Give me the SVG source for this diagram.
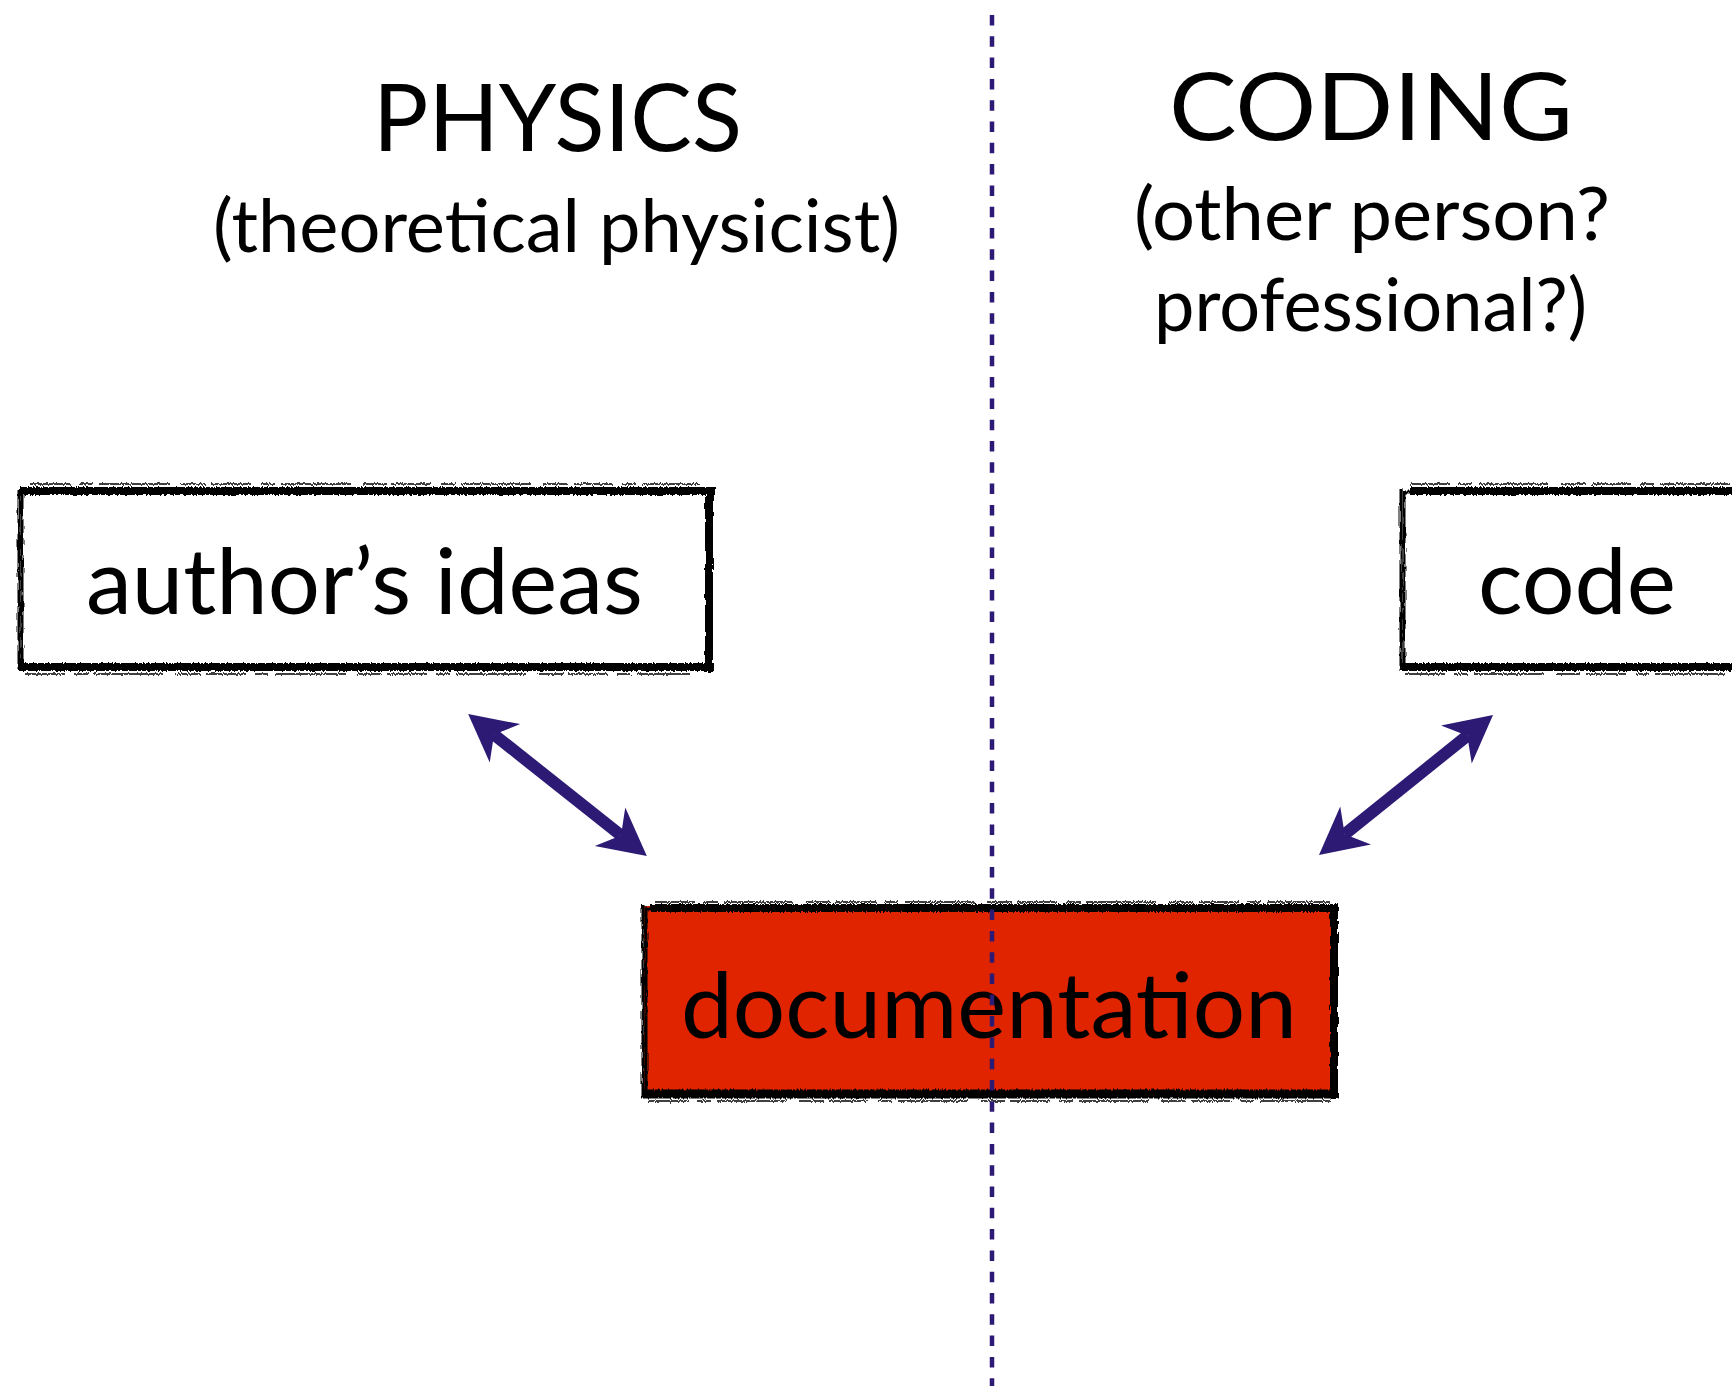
<svg xmlns="http://www.w3.org/2000/svg" width="1732" height="1386" viewBox="0 0 1732 1386">
  <style>
    .title { font-family: "Lato", "Open Sans", sans-serif; font-size: 94px; fill: #000; text-anchor: middle; }
    .sub { font-family: "Lato", "Open Sans", sans-serif; font-size: 73px; fill: #000; text-anchor: middle; }
    .label { font-family: "Lato", "Open Sans", sans-serif; font-size: 92px; fill: #000; text-anchor: middle; }
    .edge { stroke: #000; fill: none; stroke-linecap: butt; }
    .streak { stroke: #000; fill: none; stroke-width: 1.5; stroke-dasharray: 40 9 14 6 70 12 25 5; }
    .link { stroke: #2C1A75; fill: none; marker-start: url(#head); marker-end: url(#head); }
    .divider { stroke: #2C1A75; stroke-width: 4.5; stroke-dasharray: 10.5 10.8; fill: none; }
  </style>
  <defs>
    <!-- brush-like jitter for the box outlines -->
    <filter id="rough" x="-3%" y="-6%" width="106%" height="112%">
      <feTurbulence type="fractalNoise" baseFrequency="0.6 0.08" numOctaves="2" seed="7" result="noise"/>
      <feDisplacementMap in="SourceGraphic" in2="noise" scale="4" xChannelSelector="R" yChannelSelector="G"/>
    </filter>
    <!-- swept-back arrowhead; the shaft ends at the notch -->
    <marker id="head" markerUnits="userSpaceOnUse" markerWidth="56" markerHeight="56" viewBox="-17 -28 56 56" refX="0" refY="0" orient="auto-start-reverse">
      <path d="M33,0 L-14,-24.5 L0,0 L-14,24.5 Z" fill="#2C1A75"/>
    </marker>
  </defs>

  <rect width="1732" height="1386" fill="#fff"/>

  <!-- column headings -->
  <g id="physics-heading">
    <text class="title" x="557.5" y="151" textLength="369" lengthAdjust="spacingAndGlyphs">PHYSICS</text>
    <text class="sub" x="556.5" y="252" textLength="687" lengthAdjust="spacingAndGlyphs">(theoretical physicist)</text>
  </g>
  <g id="coding-heading">
    <text class="title" x="1371" y="140" textLength="404" lengthAdjust="spacingAndGlyphs">CODING</text>
    <text class="sub" x="1372" y="240" textLength="476" lengthAdjust="spacingAndGlyphs">(other person?</text>
    <text class="sub" x="1370.5" y="331" textLength="433" lengthAdjust="spacingAndGlyphs">professional?)</text>
  </g>

  <!-- author's ideas -->
  <g id="authors-ideas">
    <rect x="18" y="487" width="696" height="185" fill="#fff"/>
    <g filter="url(#rough)">
      <rect class="edge" x="22" y="492" width="687" height="175" stroke-width="3"/>
      <line class="edge" x1="20" y1="491" x2="715" y2="491" stroke-width="8"/>
      <line class="edge" x1="18" y1="667" x2="714" y2="667" stroke-width="8"/>
      <line class="edge" x1="709" y1="487" x2="709" y2="672" stroke-width="8"/>
      <line class="edge" x1="19" y1="489" x2="19" y2="671" stroke-width="3"/>
      <line class="streak" x1="30" y1="484" x2="700" y2="484"/>
      <line class="streak" x1="25" y1="674" x2="690" y2="674"/>
    </g>
    <text class="label" x="364.5" y="614" textLength="557" lengthAdjust="spacingAndGlyphs">author’s ideas</text>
  </g>

  <!-- code -->
  <g id="code">
    <rect x="1400" y="487" width="340" height="185" fill="#fff"/>
    <g filter="url(#rough)">
      <rect class="edge" x="1404" y="492" width="340" height="175" stroke-width="3"/>
      <line class="edge" x1="1410" y1="491" x2="1740" y2="491" stroke-width="8"/>
      <line class="edge" x1="1400" y1="667" x2="1740" y2="667" stroke-width="8"/>
      <line class="edge" x1="1401" y1="489" x2="1401" y2="671" stroke-width="3"/>
      <line class="streak" x1="1410" y1="484" x2="1740" y2="484"/>
      <line class="streak" x1="1405" y1="674" x2="1740" y2="674"/>
    </g>
    <text class="label" x="1577" y="614" textLength="198" lengthAdjust="spacingAndGlyphs">code</text>
  </g>

  <!-- documentation -->
  <g id="documentation">
    <rect x="644" y="906" width="692" height="190" fill="#E02400"/>
    <g filter="url(#rough)">
      <rect class="edge" x="646" y="909" width="688" height="186" stroke-width="3"/>
      <line class="edge" x1="650" y1="908" x2="1339" y2="908" stroke-width="8"/>
      <line class="edge" x1="642" y1="1094" x2="1339" y2="1094" stroke-width="9"/>
      <line class="edge" x1="1334" y1="904" x2="1334" y2="1099" stroke-width="8"/>
      <line class="edge" x1="643" y1="905" x2="643" y2="1098" stroke-width="3"/>
      <line class="streak" x1="655" y1="902" x2="1330" y2="902"/>
      <line class="streak" x1="648" y1="1101" x2="1330" y2="1101"/>
    </g>
    <text class="label" x="989" y="1038" textLength="616" lengthAdjust="spacingAndGlyphs">documentation</text>
  </g>

  <!-- connectors -->
  <g id="connectors">
    <line class="link" stroke-width="12" x1="494" y1="734.6" x2="621" y2="835.4"/>
    <line class="link" stroke-width="12" x1="1467.3" y1="735.7" x2="1344.7" y2="834.3"/>
    <line class="divider" x1="992" y1="15" x2="992" y2="1386"/>
  </g>
</svg>
